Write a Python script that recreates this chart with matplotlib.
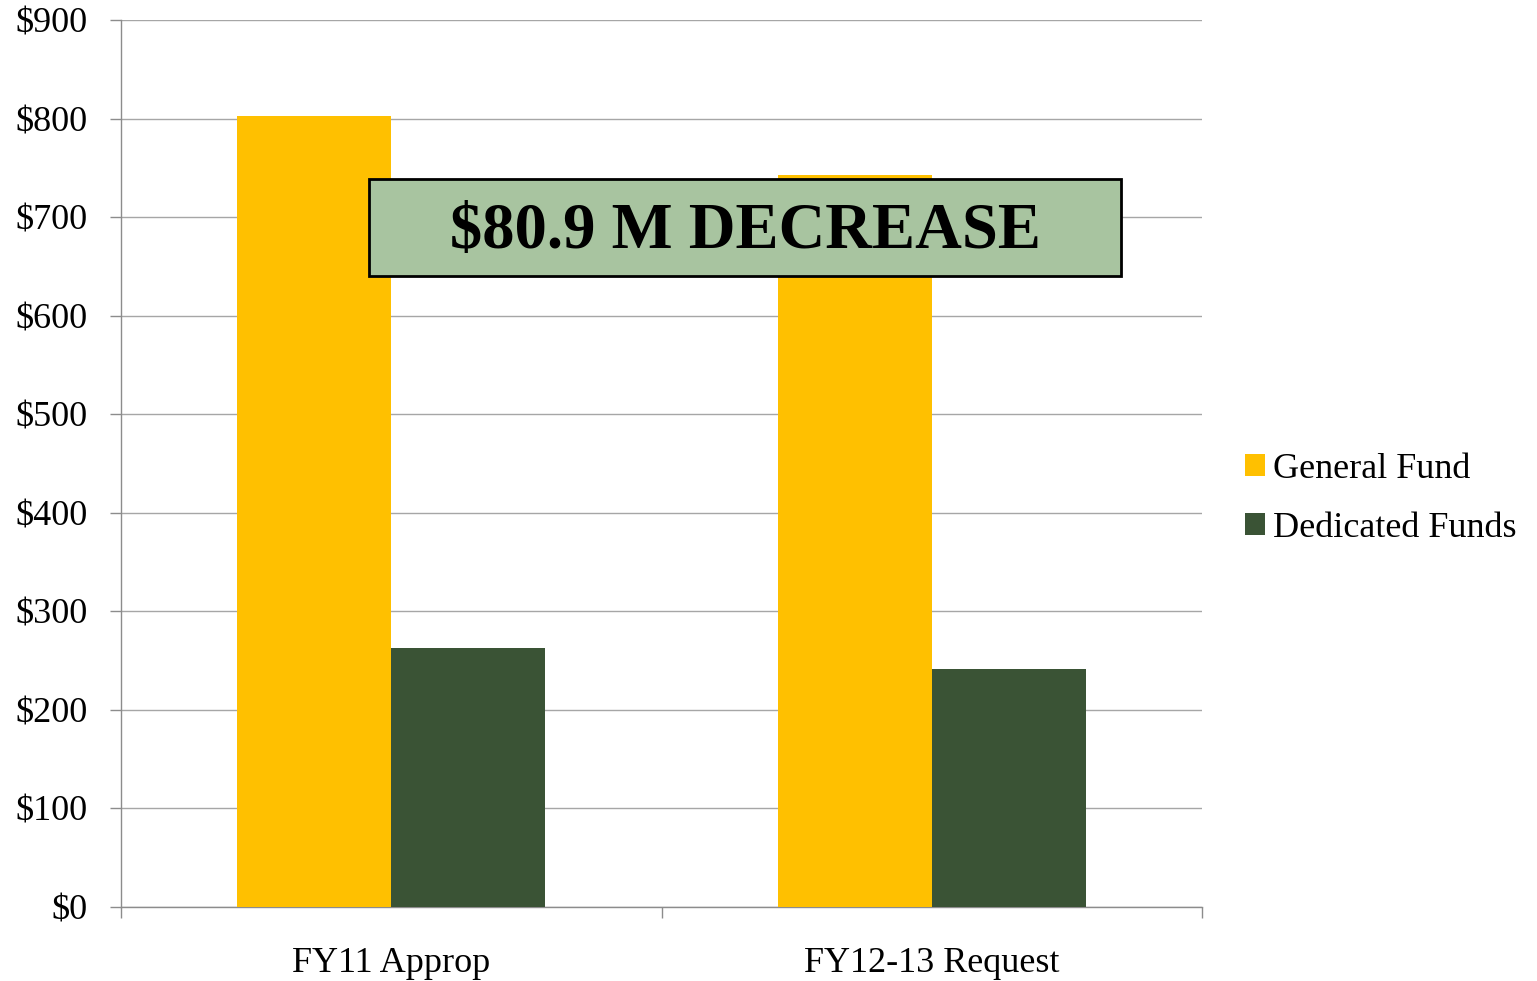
import numpy as np
import matplotlib
matplotlib.use('Agg')
import matplotlib.pyplot as plt
from matplotlib.patches import Rectangle, Patch

# data ($ millions)
categories = ['FY11 Approp', 'FY12-13 Request']
general_fund = [802.5, 742.5]
dedicated_funds = [262.5, 241.5]
series_names = ['General Fund', 'Dedicated Funds']
y_ticks = [0, 100, 200, 300, 400, 500, 600, 700, 800, 900]
callout_text = '$80.9 M DECREASE'

GOLD = '#FFC000'
GREEN = '#3A5335'
AXIS_GRAY = '#8C8C8C'

plt.rcParams['font.family'] = ['Liberation Serif', 'DejaVu Serif']

fig = plt.figure(figsize=(15.37, 9.81), dpi=100)
ax = fig.add_axes([0.0787, 0.0754, 0.7034, 0.9042])

x = np.arange(len(categories))
w = 0.285
ax.bar(x - w / 2, general_fund, width=w, color=GOLD, label=series_names[0], zorder=3)
ax.bar(x + w / 2, dedicated_funds, width=w, color=GREEN, label=series_names[1], zorder=3)

ax.set_xlim(-0.5, len(categories) - 0.5)
ax.set_ylim(0, 900)

# y axis
ax.set_yticks(y_ticks)
ax.set_yticklabels([f'${v}' for v in y_ticks])
ax.yaxis.grid(True, color='#A6A6A6', linewidth=1.0, zorder=0)
ax.set_axisbelow(True)
ax.tick_params(axis='y', length=8, width=1, color=AXIS_GRAY, pad=16,
               labelsize=26, labelcolor='black')

# x axis: labels at centres, tick marks at category boundaries
ax.set_xticks(x)
ax.set_xticklabels(categories)
ax.set_xticks(np.arange(-0.5, len(categories), 1.0), minor=True)
ax.tick_params(axis='x', which='major', length=0, pad=29, labelsize=26)
ax.tick_params(axis='x', which='minor', length=8, width=1, color=AXIS_GRAY)

for side in ['top', 'right']:
    ax.spines[side].set_visible(False)
for side in ['left', 'bottom']:
    ax.spines[side].set_color(AXIS_GRAY)
    ax.spines[side].set_linewidth(1.0)

# callout box
box = Rectangle((0.2294, 0.7114), 0.6957, 0.1093, transform=ax.transAxes,
                facecolor='#A8C4A0', edgecolor='black', linewidth=2, zorder=5,
                clip_on=False)
ax.add_patch(box)
ax.text(0.2294 + 0.6957 / 2, 0.7114 + 0.1093 / 2 - 0.005, callout_text,
        transform=ax.transAxes, ha='center', va='center', fontsize=46.5,
        fontweight='bold', color='black', zorder=6)

# legend
handles = [Patch(facecolor=GOLD, edgecolor='none'), Patch(facecolor=GREEN, edgecolor='none')]
fig.legend(handles, series_names, loc='center left', bbox_to_anchor=(0.7985, 0.4913),
           frameon=False, fontsize=26, handlelength=0.55, handleheight=0.55,
           handletextpad=0.22, labelspacing=0.72, borderpad=0)

fig.savefig('out.png', dpi=100)
